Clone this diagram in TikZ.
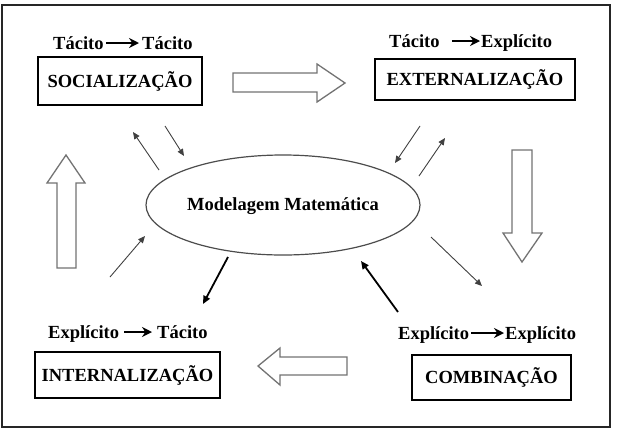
\documentclass[tikz,border=0pt]{standalone}
\usepackage{fontspec}
\setmainfont{Liberation Serif}
\usetikzlibrary{arrows.meta}
\newcommand{\figfont}{\fontsize{18.5}{20}\selectfont\bfseries}
\begin{document}
\begin{tikzpicture}[x=1pt,y=-1pt,
  stagebox/.style={draw, line width=2.2pt, inner sep=0pt, font=\figfont},
  lbl/.style={inner sep=0pt, font=\figfont},
  txtarrow/.style={-{Stealth[length=10pt,width=10pt]}, line width=2.4pt},
  thinarrow/.style={-{Triangle[length=7pt,width=6pt]}, line width=0.9pt, draw=black!75},
  thickarrow/.style={-{Triangle[length=8pt,width=7pt]}, line width=1.8pt, draw=black},
  blockarrow/.style={draw=black!55, line width=1.3pt, fill=white, line join=miter}]
\useasboundingbox (0,0) rectangle (617,429);
% frame
\draw[line width=2pt, black!85] (2,5) rectangle (610,427);

% stage boxes
\node[stagebox, minimum width=164pt, minimum height=48pt] (soc) at (120,81) {SOCIALIZAÇÃO};
\node[stagebox, minimum width=200pt, minimum height=41pt] (ext) at (475,79.5) {EXTERNALIZAÇÃO};
\node[stagebox, minimum width=185pt, minimum height=46pt] (int) at (127.5,375) {INTERNALIZAÇÃO};
\node[stagebox, minimum width=159pt, minimum height=45pt] (comb) at (491.5,377.5) {COMBINAÇÃO};

% central ellipse
\draw[line width=1.2pt, black!70] (283,205) ellipse [x radius=137, y radius=50];
\node[lbl] (mm) at (283,206) {Modelagem Matemática};

% labels
\node[lbl, anchor=base west] (l1a) at (53,49) {Tácito};
\node[lbl, anchor=base west] (l1b) at (142,49) {Tácito};
\draw[txtarrow] ([shift={(2,-6)}]l1a.base east) -- ([shift={(-3,-6)}]l1b.base west);

\node[lbl, anchor=base west] (l2a) at (389,47) {Tácito};
\node[lbl, anchor=base west] (l2b) at (481,47) {Explícito};
\draw[txtarrow] ([shift={(12,-6)}]l2a.base east) -- ([shift={(-1,-6)}]l2b.base west);

\node[lbl, anchor=base west] (l3a) at (48,338) {Explícito};
\node[lbl, anchor=base west] (l3b) at (157,338) {Tácito};
\draw[txtarrow] ([shift={(5,-6)}]l3a.base east) -- ([shift={(-5,-6)}]l3b.base west);

\node[lbl, anchor=base west] (l4a) at (398,339) {Explícito};
\node[lbl, anchor=base west] (l4b) at (505,339) {Explícito};
\draw[txtarrow] ([shift={(2,-6)}]l4a.base east) -- ([shift={(-1,-6)}]l4b.base west);

% block arrows
\draw[blockarrow] (233,73) -- (317,73) -- (317,64) -- (345,83) -- (317,102) -- (317,92) -- (233,92) -- cycle;
\draw[blockarrow] (512,150) -- (532,150) -- (532,233) -- (542,233) -- (522,262) -- (503,233) -- (512,233) -- cycle;
\draw[blockarrow] (57,268) -- (76,268) -- (76,183) -- (85,183) -- (66,155) -- (47,183) -- (57,183) -- cycle;
\draw[blockarrow] (347,357) -- (280,357) -- (280,348) -- (258,366) -- (280,385) -- (280,375) -- (347,375) -- cycle;

% small arrows
\coordinate (a1s) at (159,170); \coordinate (a1e) at (133,132);
\coordinate (a2s) at (165,126); \coordinate (a2e) at (184,156);
\coordinate (a3s) at (420,126); \coordinate (a3e) at (395,163);
\coordinate (a4s) at (419,176); \coordinate (a4e) at (445,138);
\coordinate (a5s) at (110,277); \coordinate (a5e) at (145,236);
\coordinate (a6s) at (228,257); \coordinate (a6e) at (203,304);
\coordinate (a7s) at (431,237); \coordinate (a7e) at (482,286);
\coordinate (a8s) at (398,312); \coordinate (a8e) at (361,261);
\draw[thinarrow] (a1s) -- (a1e);
\draw[thinarrow] (a2s) -- (a2e);
\draw[thinarrow] (a3s) -- (a3e);
\draw[thinarrow] (a4s) -- (a4e);
\draw[thinarrow] (a5s) -- (a5e);
\draw[thickarrow] (a6s) -- (a6e);
\draw[thinarrow] (a7s) -- (a7e);
\draw[thickarrow] (a8s) -- (a8e);
\end{tikzpicture}
\end{document}
